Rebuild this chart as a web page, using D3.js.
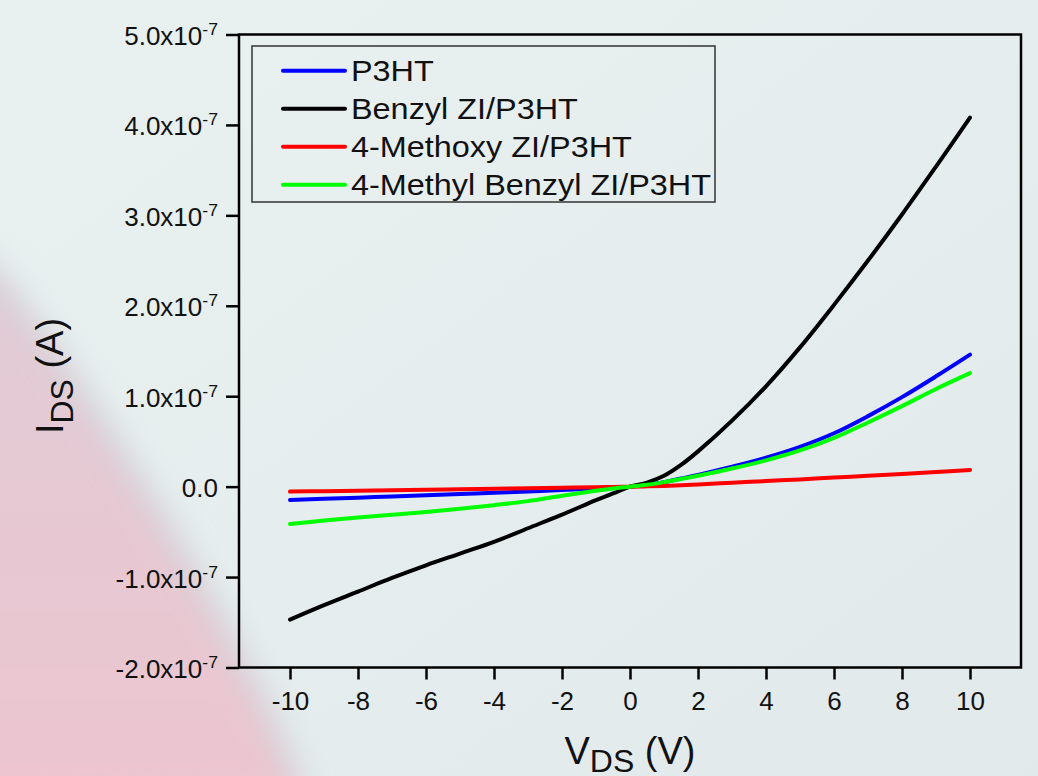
<!DOCTYPE html>
<html lang="en">
<head>
<meta charset="utf-8">
<title>IDS vs VDS</title>
<script src="https://d3js.org/d3.v7.min.js"></script>
<style>
  body { margin: 0; }
  svg { display: block; font-family: "Liberation Sans", Arial, sans-serif; }
  .tick text { fill: #111; }
  .tick line { stroke: #000; stroke-width: 2.5px; }
  .curve { fill: none; stroke-width: 4px; stroke-linecap: round; stroke-linejoin: round; }
</style>
</head>
<body>
<script>
// drain-source voltage (V), read a little closer near the origin
var vds = [-10, -9, -8, -7, -6, -5, -4, -3, -2, -1, -0.5, 0, 0.5, 1, 1.5, 2, 3, 4, 5, 6, 7, 8, 9, 10];

// drain current, in units of 1e-7 A
var iP3HT    = [-0.148, -0.135, -0.122, -0.108, -0.095, -0.082, -0.068, -0.053, -0.037, -0.02, -0.01, 0, 0.02, 0.05, 0.09, 0.13, 0.22, 0.32, 0.44, 0.59, 0.78, 0.99, 1.22, 1.46];
var iBenzyl  = [-1.47, -1.31, -1.16, -1.01, -0.87, -0.74, -0.61, -0.46, -0.31, -0.15, -0.075, 0, 0.045, 0.12, 0.24, 0.39, 0.73, 1.11, 1.54, 2.01, 2.50, 3.01, 3.54, 4.08];
var iMethoxy = [-0.055, -0.05, -0.045, -0.04, -0.035, -0.03, -0.024, -0.018, -0.012, -0.006, -0.003, 0, 0.003, 0.008, 0.016, 0.025, 0.043, 0.062, 0.08, 0.10, 0.12, 0.14, 0.162, 0.185];
var iMethyl  = [-0.413, -0.375, -0.34, -0.31, -0.28, -0.245, -0.205, -0.16, -0.10, -0.045, -0.02, 0, 0.02, 0.05, 0.085, 0.12, 0.20, 0.29, 0.40, 0.54, 0.71, 0.89, 1.08, 1.255];

var seriesNames = ["P3HT", "Benzyl ZI/P3HT", "4-Methoxy ZI/P3HT", "4-Methyl Benzyl ZI/P3HT"];
var seriesColors = ["#0000ff", "#000000", "#ff0000", "#00ff00"];
var seriesValues = [iP3HT, iBenzyl, iMethoxy, iMethyl];

var xMajor = [-10, -8, -6, -4, -2, 0, 2, 4, 6, 8, 10];
var xMinor = [-11, -9, -7, -5, -3, -1, 1, 3, 5, 7, 9, 11];
var yMajor = [-2, -1, 0, 1, 2, 3, 4, 5];
var yMinor = [-1.5, -0.5, 0.5, 1.5, 2.5, 3.5, 4.5];

var w = 1038, h = 776;
var plotL = 239, plotR = 1021, plotT = 34.5, plotB = 667.5;
var stretch = 1.08;    // the original lettering is a little wider than Liberation Sans
var tickStretch = 1.04;

var svg = d3.select("body").append("svg")
  .attr("width", w)
  .attr("height", h);

// background: pale slide colour with a soft pink wedge at lower left
var defs = svg.append("defs");
var bg = defs.append("linearGradient").attr("id", "bg")
  .attr("x1", 0).attr("y1", 0).attr("x2", 1).attr("y2", 1);
bg.append("stop").attr("offset", 0).attr("stop-color", "#e9f1f0");
bg.append("stop").attr("offset", 1).attr("stop-color", "#e2e9eb");
var pink = defs.append("linearGradient").attr("id", "pink")
  .attr("x1", 0).attr("y1", 0).attr("x2", 0).attr("y2", 1);
pink.append("stop").attr("offset", 0).attr("stop-color", "#e0ccd6");
pink.append("stop").attr("offset", 1).attr("stop-color", "#ecc5cf");
defs.append("filter").attr("id", "blur")
  .attr("x", "-50%").attr("y", "-50%").attr("width", "200%").attr("height", "200%")
  .append("feGaussianBlur").attr("stdDeviation", 10);
defs.append("filter").attr("id", "blur2")
  .attr("x", "-50%").attr("y", "-50%").attr("width", "200%").attr("height", "200%")
  .append("feGaussianBlur").attr("stdDeviation", 14);

svg.append("rect").attr("width", w).attr("height", h).attr("fill", "url(#bg)");
var edge = [[-40, 240], [0, 280], [50, 345], [100, 420], [160, 515], [215, 610], [262, 700], [300, 790]];
svg.append("path")
  .attr("d", d3.line()(edge.concat([[-40, 800]])) + "Z")
  .attr("fill", "url(#pink)")
  .attr("filter", "url(#blur)");
svg.append("path")
  .attr("d", d3.line()(edge))
  .attr("fill", "none")
  .attr("stroke", "#d3d4d9")
  .attr("stroke-width", 22)
  .attr("opacity", 0.7)
  .attr("filter", "url(#blur2)");

var x = d3.scaleLinear().domain([-11.5, 11.5]).range([plotL, plotR]);
var y = d3.scaleLinear().domain([-2, 5]).range([plotB, plotT]);

// axes
var gx = svg.append("g").attr("transform", "translate(0," + plotB + ")");
gx.call(d3.axisBottom(x).tickValues(xMinor).tickSize(7).tickFormat(""));
gx.call(d3.axisBottom(x).tickValues(xMajor).tickSize(12).tickPadding(13)
  .tickFormat(function(d) { return String(d); }));
gx.selectAll(".domain").remove();
gx.attr("font-family", null).attr("font-size", null);
gx.selectAll("text")
  .style("font-size", "25px")
  .attr("transform", "scale(" + tickStretch + ",1)");

var gy = svg.append("g").attr("transform", "translate(" + plotL + ",0)");
gy.call(d3.axisLeft(y).tickValues(yMinor).tickSize(6).tickFormat(""));
gy.call(d3.axisLeft(y).tickValues(yMajor).tickSize(13).tickPadding(8));
gy.selectAll(".domain").remove();
gy.attr("font-family", null).attr("font-size", null);
gy.selectAll("text")
  .style("font-size", "25px")
  .attr("dy", "10px")
  .attr("x", -21 / tickStretch)
  .attr("transform", "scale(" + tickStretch + ",1)")
  .each(function(d) {
    var t = d3.select(this).text("");
    if (d === 0) { t.text("0.0"); return; }
    t.append("tspan").text(d.toFixed(1) + "x10");
    t.append("tspan").attr("dy", -10).style("font-size", "17px").text("-7");
  });

// curves
var line = d3.line()
  .x(function(d, i) { return x(vds[i]); })
  .y(function(d) { return y(d); })
  .curve(d3.curveCatmullRom);

svg.selectAll("path.curve")
  .data(seriesValues)
  .enter().append("path")
  .attr("class", "curve")
  .attr("stroke", function(d, i) { return seriesColors[i]; })
  .attr("d", line);

// frame
svg.append("rect")
  .attr("x", plotL).attr("y", plotT)
  .attr("width", plotR - plotL).attr("height", plotB - plotT)
  .attr("fill", "none").attr("stroke", "#000").attr("stroke-width", 2.5);

// legend
svg.append("rect")
  .attr("x", 252).attr("y", 46).attr("width", 463).attr("height", 156)
  .attr("fill", "none").attr("stroke", "#333").attr("stroke-width", 1.5);

var legend = svg.selectAll("g.legend")
  .data(seriesNames)
  .enter().append("g")
  .attr("class", "legend")
  .attr("transform", function(d, i) { return "translate(0," + (70.7 + i * 38) + ")"; });
legend.append("line")
  .attr("x1", 283).attr("x2", 345)
  .attr("stroke", function(d, i) { return seriesColors[i]; })
  .attr("stroke-width", 4).attr("stroke-linecap", "round");
legend.append("text")
  .attr("transform", "translate(351,10) scale(" + stretch + ",1)")
  .style("font-size", "30px").attr("fill", "#111")
  .text(function(d) { return d; });

// axis titles
var xt = svg.append("text")
  .attr("x", 630).attr("y", 764)
  .attr("text-anchor", "middle").attr("fill", "#111")
  .style("font-size", "38px");
xt.append("tspan").text("V");
xt.append("tspan").attr("dy", 8).style("font-size", "32px").text("DS");
xt.append("tspan").attr("dy", -8).text(" (V)");

var yt = svg.append("text")
  .attr("transform", "translate(63,376) rotate(-90)")
  .attr("text-anchor", "middle").attr("fill", "#111")
  .style("font-size", "38px");
yt.append("tspan").text("I");
yt.append("tspan").attr("dy", 10).style("font-size", "32px").text("DS");
yt.append("tspan").attr("dy", -10).text(" (A)");
</script>
</body>
</html>
